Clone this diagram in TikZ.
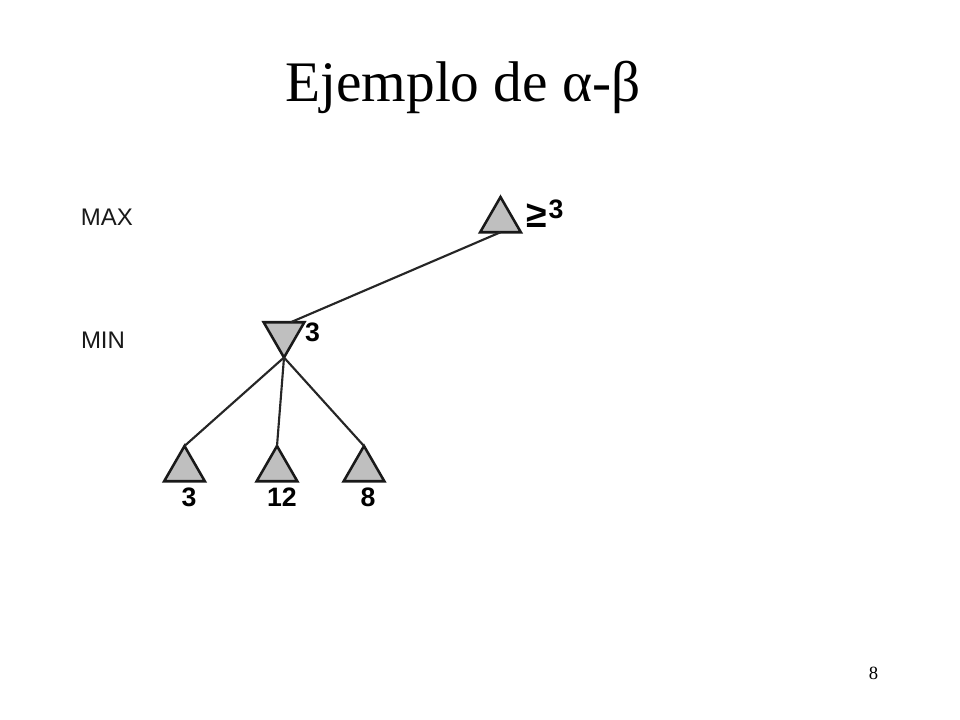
\documentclass[tikz,border=0pt]{standalone}
\usepackage{fontspec}
\setmainfont{Liberation Serif}
\newfontfamily\labelfont{Liberation Sans}
\usetikzlibrary{shapes.geometric}
\begin{document}
\begin{tikzpicture}[x = 0.75pt, y = -0.75pt,
    tri/.style = {regular polygon, regular polygon sides = 3, minimum size = 35.25pt,
        inner sep = 0pt, outer sep = 0pt, draw = black!90, fill = black!25, line width = 1.9pt},
    maxtri/.style = {tri},
    mintri/.style = {tri, shape border rotate = 180},
    branch/.style = {draw = black!85, line width = 1.6pt},
    level/.style = {font = \labelfont\fontsize{18}{20}\selectfont, text = black!90, inner sep = 0pt},
    value/.style = {font = \labelfont\bfseries\fontsize{20}{22}\selectfont, inner sep = 0pt}]
    \useasboundingbox (0,0) rectangle (960,720);

    \node[font = \fontsize{43}{50}\selectfont, anchor = base, inner sep = 0pt] (title) at (463,102) {Ejemplo de α-β};

    \node[level] (maxlabel) at (107,217.5) {MAX};
    \node[level] (minlabel) at (103,340) {MIN};

    \node[maxtri] (root) at (500.5,220.5) {};
    \node[mintri] (mina) at (284,334) {};
    \node[maxtri] (leafa) at (184.5,469.5) {};
    \node[maxtri] (leafb) at (277,469.5) {};
    \node[maxtri] (leafc) at (364,469.5) {};

    \draw[branch] (root.south) -- (mina.60);
    \draw[branch] (mina.south) -- (leafa.north);
    \draw[branch] (mina.south) -- (leafb.north);
    \draw[branch] (mina.south) -- (leafc.north);

    \node[value] (rootval) at (545,214) {\raisebox{-7pt}{\fontsize{28}{28}\selectfont ≥}\kern1pt3};
    \node[value] (minaval) at (312.5,332.5) {3};
    \node[value] (leafaval) at (189,497) {3};
    \node[value] (leafbval) at (282,497) {12};
    \node[value] (leafcval) at (368,497) {8};

    \node[font = \fontsize{14}{16}\selectfont, inner sep = 0pt] (page) at (873.5,673) {8};
\end{tikzpicture}
\end{document}
